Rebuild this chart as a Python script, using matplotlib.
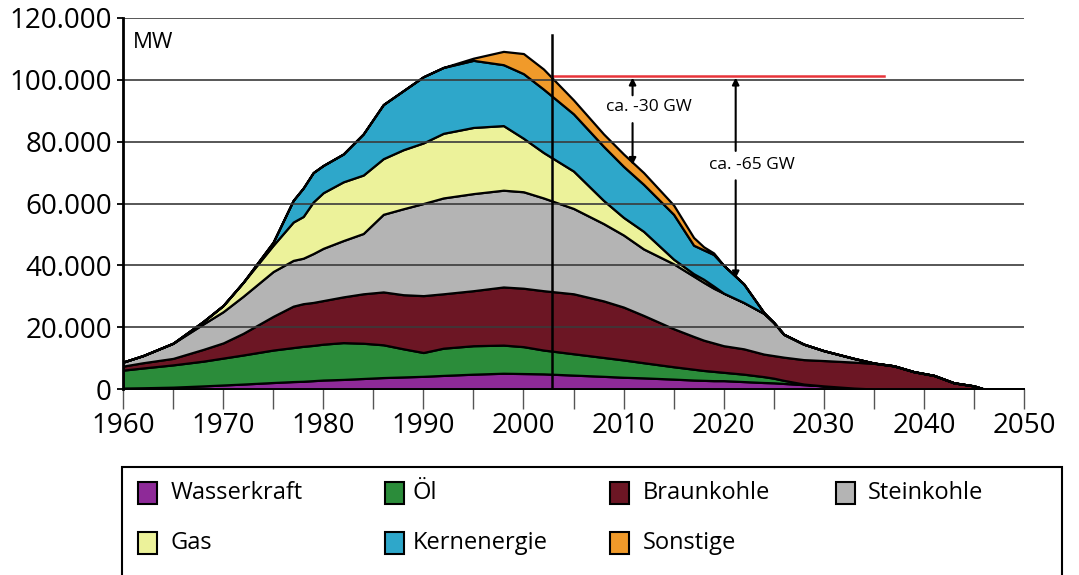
import numpy as np
import matplotlib.pyplot as plt
from matplotlib.patches import Rectangle

plt.rcParams['font.family'] = ['Open Sans', 'DejaVu Sans']

# years of the readings
years = [1960, 1962, 1965, 1968, 1970, 1972, 1975, 1977, 1978, 1979,
         1980, 1982, 1984, 1986, 1988, 1990, 1992, 1995, 1998, 2000,
         2002, 2005, 2008, 2010, 2012, 2015, 2017, 2018, 2019, 2020,
         2022, 2024, 2025, 2026, 2028, 2030, 2033, 2035, 2037, 2039,
         2041, 2043, 2045, 2046, 2050]

# installed capacity per source, in 1000 MW
wasserkraft = [0.3, 0.4, 0.6, 1.0, 1.3, 1.6, 2.1, 2.4, 2.5, 2.7,
               2.9, 3.1, 3.4, 3.7, 3.9, 4.1, 4.4, 4.8, 5.1, 5.0,
               4.9, 4.5, 4.1, 3.8, 3.6, 3.2, 2.9, 2.8, 2.7, 2.7,
               2.4, 2.1, 2.0, 1.8, 1.4, 1.0, 0.3, 0, 0, 0,
               0, 0, 0, 0, 0]
oel = [5.8, 6.4, 7.2, 8.0, 8.7, 9.4, 10.5, 11.0, 11.3, 11.4,
       11.6, 11.9, 11.4, 10.6, 9.1, 7.7, 8.8, 9.2, 9.1, 8.7,
       7.7, 6.9, 6.1, 5.6, 4.9, 4.0, 3.5, 3.2, 3.0, 2.7,
       2.4, 1.9, 1.5, 1.0, 0.2, 0, 0, 0, 0, 0,
       0, 0, 0, 0, 0]
braunkohle = [1.3, 1.7, 2.1, 3.8, 4.9, 7.0, 10.9, 13.4, 13.8, 13.9,
              14.1, 14.8, 16.0, 17.1, 17.5, 18.4, 17.6, 17.8, 18.8, 18.9,
              19.2, 19.4, 18.3, 17.1, 15.3, 12.3, 10.6, 9.8, 9.2, 8.6,
              8.2, 7.3, 7.3, 7.5, 7.9, 8.2, 8.4, 8.3, 7.5, 5.6,
              4.4, 2.0, 1.0, 0, 0]
steinkohle = [1.3, 2.3, 4.9, 8.2, 10.1, 12.0, 14.5, 14.8, 14.7, 15.8,
              16.9, 18.2, 19.5, 25.1, 27.8, 29.8, 31.0, 31.4, 31.3, 31.2,
              30.0, 27.6, 25.0, 23.3, 21.5, 21.0, 19.5, 18.7, 17.7, 17.0,
              15.0, 13.2, 10.7, 7.4, 5.0, 3.2, 1.2, 0.1, 0, 0,
              0, 0, 0, 0, 0]
gas = [0, 0, 0, 0.8, 2.0, 4.5, 8.5, 12.4, 13.5, 16.7,
       18.0, 19.0, 18.9, 18.0, 19.1, 19.6, 20.9, 21.4, 20.9, 17.3,
       14.7, 12.1, 7.5, 5.7, 5.7, 1.5, 0.8, 1.0, 0.7, 0,
       0, 0, 0, 0, 0, 0, 0, 0, 0, 0,
       0, 0, 0, 0, 0]
kernenergie = [0, 0, 0, 0, 0, 0, 1.0, 7.0, 9.2, 9.5,
               8.8, 9.0, 13.3, 17.5, 19.1, 21.4, 21.3, 21.7, 19.7, 20.9,
               20.5, 18.5, 17.5, 16.5, 15.2, 14.5, 9.2, 9.5, 10.2, 9.0,
               6.0, 0.3, 0, 0, 0, 0, 0, 0, 0, 0,
               0, 0, 0, 0, 0]
sonstige = [0, 0, 0, 0, 0, 0, 0, 0, 0, 0,
            0, 0, 0, 0, 0, 0, 0, 0.7, 4.3, 6.5,
            6.5, 4.5, 4.0, 4.0, 3.8, 3.0, 2.5, 1.0, 0.5, 0,
            0, 0, 0, 0, 0, 0, 0, 0, 0, 0,
            0, 0, 0, 0, 0]

labels = ['Wasserkraft', 'Öl', 'Braunkohle', 'Steinkohle',
          'Gas', 'Kernenergie', 'Sonstige']
colors = ['#8e2a98', '#2b8c3a', '#6c1624', '#b4b4b4',
          '#ecf29a', '#2ea7ca', '#f09a2a']

# marks for the reduction note
ref_year = 2002.9
ref_level = 101300
line_end = 2036

W, H = 1079, 575
fig = plt.figure(figsize=(W / 100, H / 100), dpi=100)
ax = fig.add_axes([123 / W, 1 - 389 / H, (1024 - 123) / W, (389 - 18) / H])

series = [np.array(s) * 1000 for s in
          [wasserkraft, oel, braunkohle, steinkohle, gas, kernenergie, sonstige]]
polys = ax.stackplot(years, *series, colors=colors, edgecolor='black',
                     linewidth=1.6, zorder=2)
for p in polys:
    p.set_joinstyle('round')

for v in range(20000, 120001, 20000):
    ax.axhline(v, color='#3a3a3a', lw=1.2, zorder=3)

ax.set_xlim(1960, 2050)
ax.set_ylim(0, 120000)

# reference line, vertical marker and arrows
ax.plot([ref_year, line_end], [ref_level, ref_level], color='#e8343a', lw=1.8, zorder=5)
ax.plot([ref_year, ref_year], [0, 114500], color='black', lw=1.8, zorder=5)

arrow = dict(arrowstyle='-|>', color='black', lw=1.5, mutation_scale=10,
             shrinkA=0, shrinkB=0)
ax.annotate('', xy=(2010.9, 100700), xytext=(2010.9, 95000), arrowprops=arrow, zorder=6)
ax.annotate('', xy=(2010.9, 72500), xytext=(2010.9, 86000), arrowprops=arrow, zorder=6)
ax.text(2012.5, 91200, 'ca. -30 GW', ha='center', va='center', fontsize=12.5, zorder=6)
ax.annotate('', xy=(2021.2, 100700), xytext=(2021.2, 77000), arrowprops=arrow, zorder=6)
ax.annotate('', xy=(2021.2, 35800), xytext=(2021.2, 67500), arrowprops=arrow, zorder=6)
ax.text(2022.8, 72400, 'ca. -65 GW', ha='center', va='center', fontsize=12.5, zorder=6)

ax.text(1961.0, 112000, 'MW', ha='left', va='center', fontsize=16)

# axes styling
for s in ['top', 'right']:
    ax.spines[s].set_visible(False)
ax.spines['left'].set_linewidth(2)
ax.spines['bottom'].set_linewidth(1.3)
ax.spines['left'].set_zorder(6)
ax.spines['bottom'].set_zorder(6)

ax.set_xticks(range(1960, 2051, 10))
ax.set_xticks(range(1965, 2050, 10), minor=True)
ax.tick_params(axis='x', which='both', length=14.5, width=1.0, color='#555555',
               direction='out', labelsize=20, pad=2)
yt = list(range(0, 120001, 20000))
ax.set_yticks(yt)
ax.set_yticklabels([f'{v:,}'.replace(',', '.') for v in yt])
ax.tick_params(axis='y', length=4, width=1.3, labelsize=20, pad=4)

# legend box, open at the bottom edge of the picture
fig.patches.append(Rectangle((122 / W, -0.1), (1062 - 122) / W, (575 - 467) / H + 0.1,
                             transform=fig.transFigure, fill=False,
                             edgecolor='black', lw=1.5))
sq_x = [138, 385, 610, 836, 138, 385, 610]
txt_x = [171, 413, 643, 868, 171, 413, 643]
row_y = [493, 493, 493, 493, 543, 543, 543]
for lab, c, sx, tx, ry in zip(labels, colors, sq_x, txt_x, row_y):
    fig.patches.append(Rectangle((sx / W, 1 - (ry + 11) / H), 19 / W, 22 / H,
                                 transform=fig.transFigure, facecolor=c,
                                 edgecolor='black', lw=1.5))
    fig.text(tx / W, 1 - ry / H, lab, ha='left', va='center', fontsize=17)

fig.savefig('out.png', dpi=100)
